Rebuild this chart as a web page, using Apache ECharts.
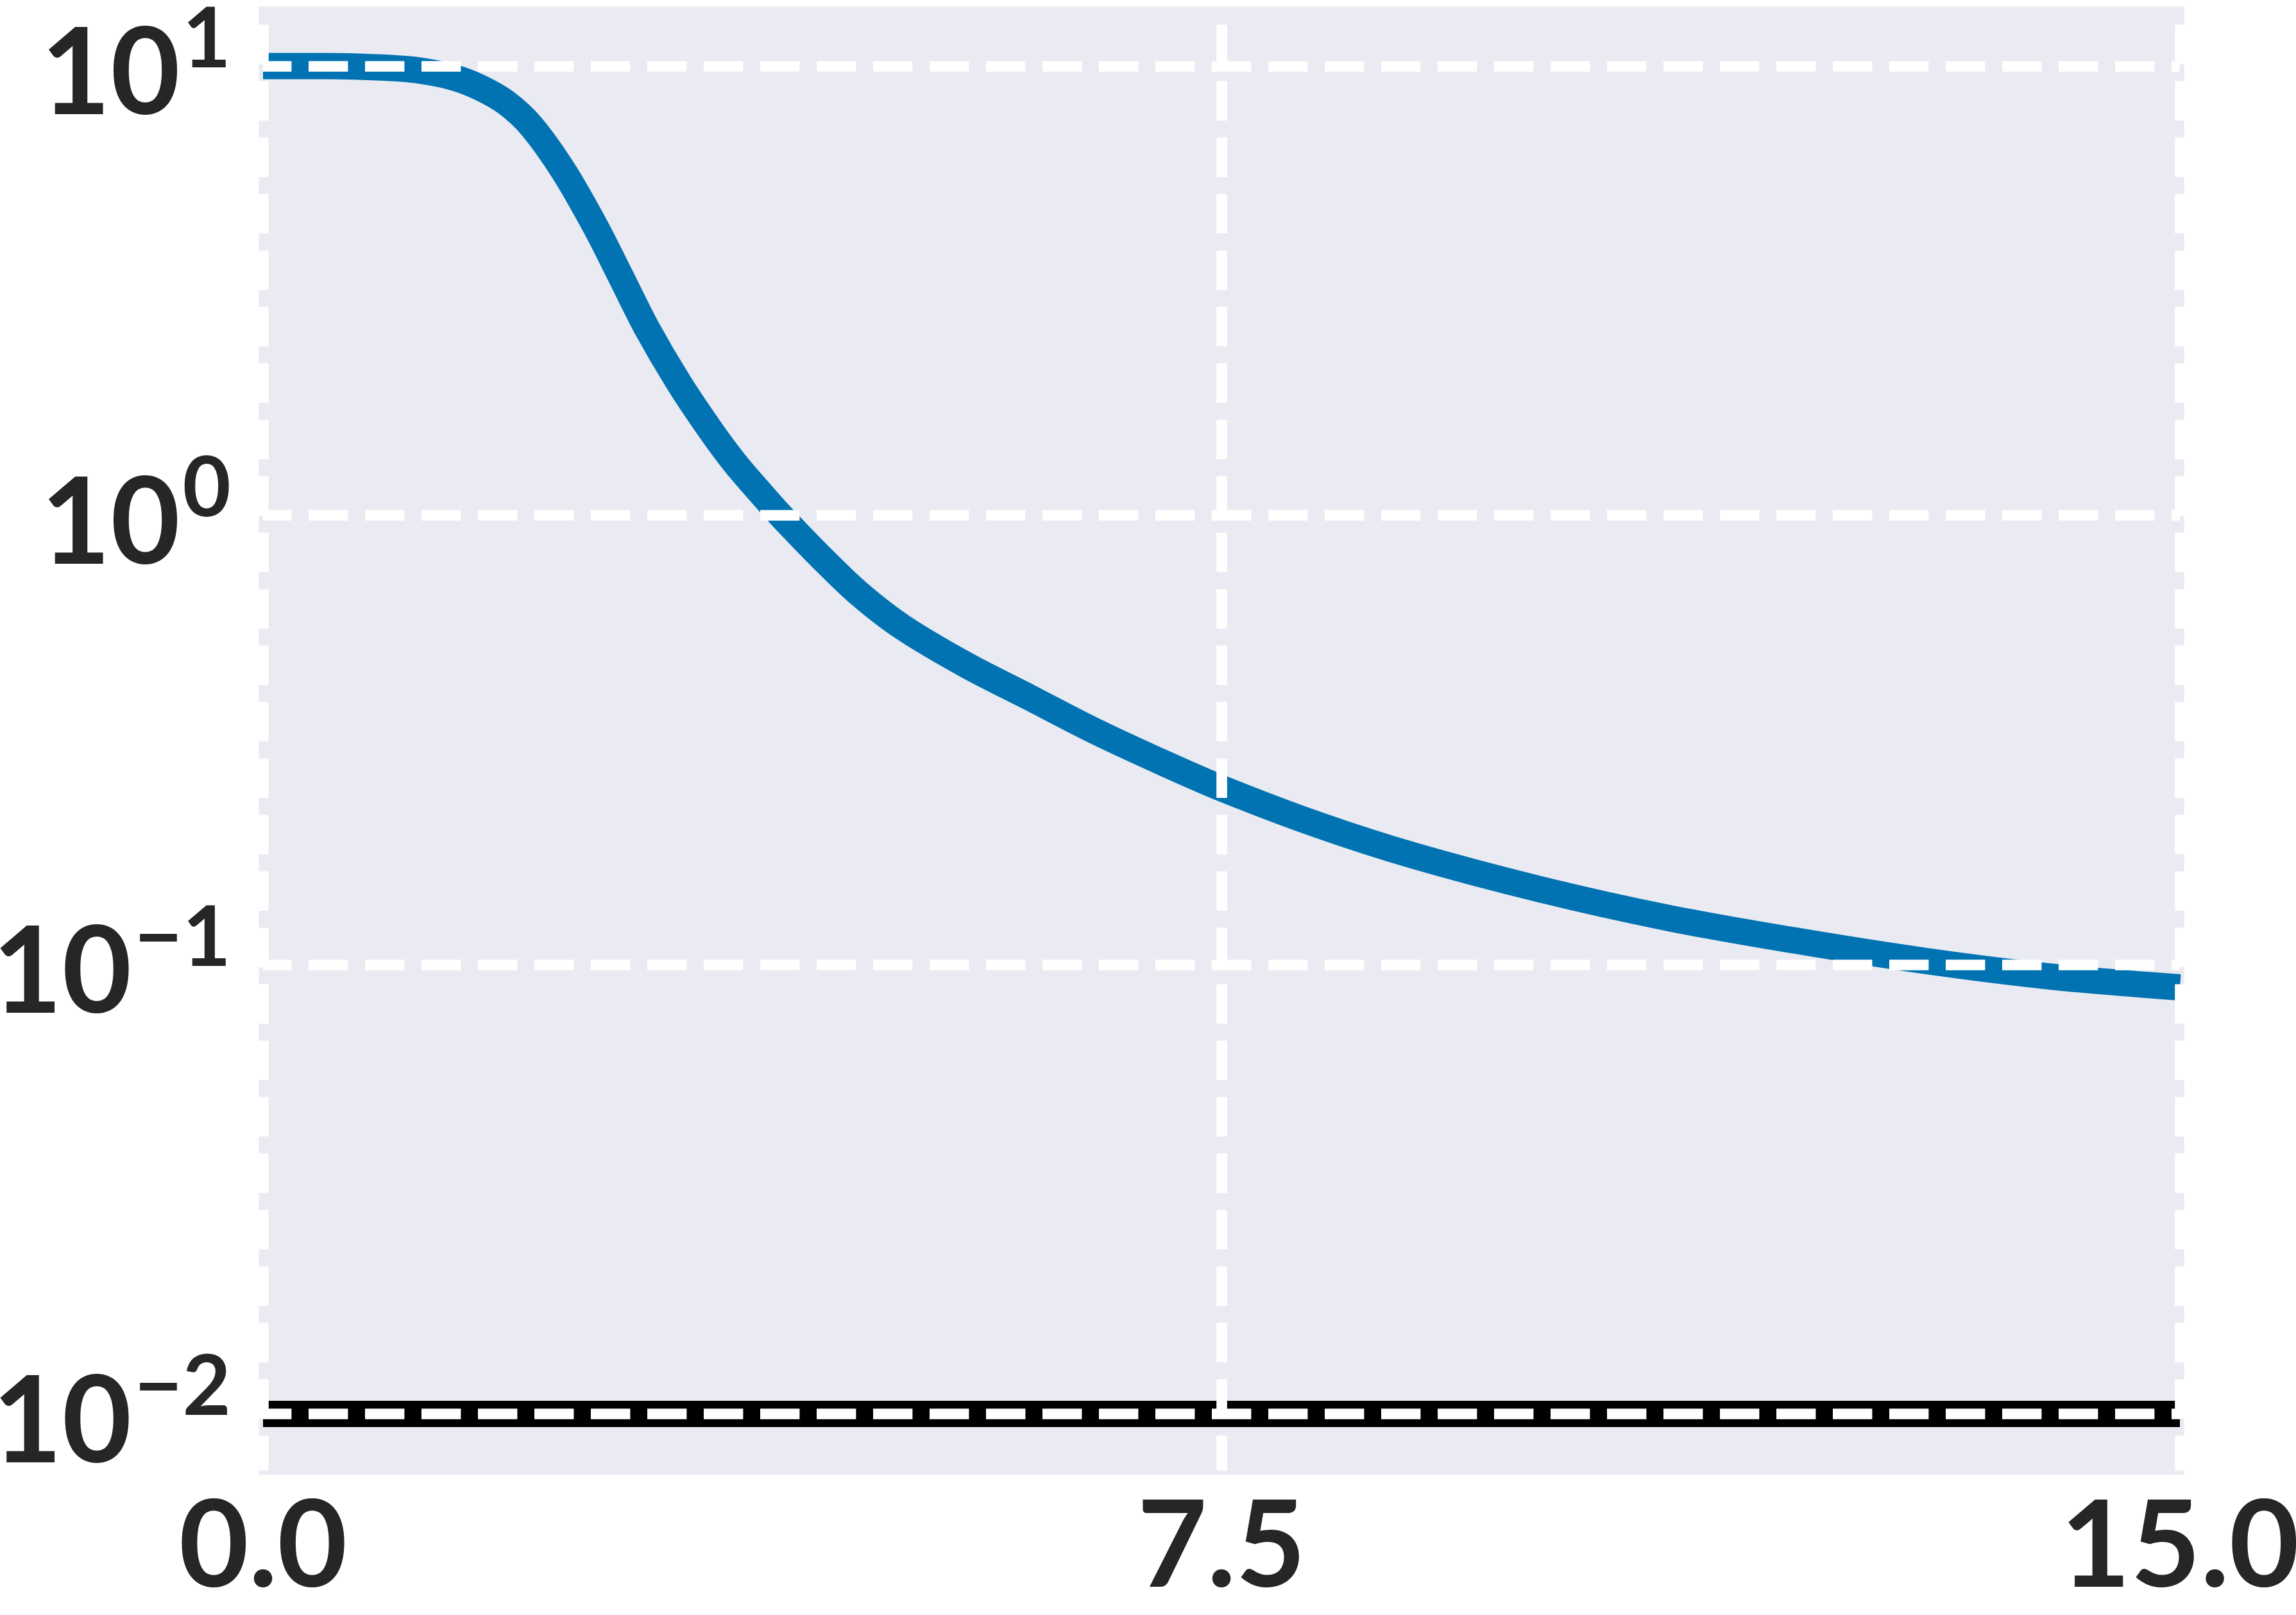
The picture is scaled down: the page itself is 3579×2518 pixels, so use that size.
<!DOCTYPE html>
<html>
<head>
<meta charset="utf-8">
<script src="https://cdn.jsdelivr.net/npm/echarts@6/dist/echarts.min.js"></script>
<style>
html,body{margin:0;padding:0;background:#ffffff;}
#chart{width:3579px;height:2518px;}
</style>
</head>
<body>
<div id="chart"></div>
<script>
// ---- data ----
const xValues = [0, 0.5, 1.0, 1.25, 1.5, 1.7, 1.9, 2.1, 2.35, 2.6, 2.8, 3.0, 3.25, 3.5, 3.7, 3.92, 4.05, 4.36, 4.65, 5.0, 5.5, 6.0, 6.5, 7.0, 7.5, 8.25, 9.0, 10.0, 11.0, 12.0, 13.0, 14.0, 15.0];
const yValues = [10.0, 10.0, 9.9, 9.75, 9.42, 8.95, 8.3, 7.35, 5.85, 4.4, 3.4, 2.62, 1.98, 1.55, 1.3, 1.1, 1.0, 0.81, 0.675, 0.565, 0.465, 0.393, 0.332, 0.285, 0.247, 0.205, 0.175, 0.147, 0.127, 0.113, 0.102, 0.094, 0.089];
const refX = [0, 15];
const refY = [0.01, 0.01];
const xTickValues = [0, 7.5, 15];
const yTickExponents = [-2, -1, 0, 1];

const X_MIN = 0, X_MAX = 15, X_INTERVAL = 7.5;
const Y_MIN = 0.007488, Y_MAX = 13.29;

const TEXT = '#262626';
const BG = '#EAEAF2';
const BLUE = '#0173B2';
const FONT = 'Lato';

const chart = echarts.init(document.getElementById('chart'), null, {renderer: 'canvas'});

function yLabel(v) {
  const e = Math.log10(v);
  const r = Math.round(e);
  if (Math.abs(e - r) > 1e-6 || yTickExponents.indexOf(r) < 0) return '';
  const exp = r < 0 ? '\u2212' + (-r) : String(r);
  return '{b|10}{s|' + exp + '}';
}

const gridLine = {
  color: '#ffffff',
  width: 16.6,
  type: [61.4, 26.6]
};

const option = {
  animation: false,
  backgroundColor: '#ffffff',
  grid: {
    left: 410, right: 181, top: 16.5, bottom: 225.5,
    show: true,
    backgroundColor: BG,
    borderColor: BG,
    borderWidth: 13,
    outerBoundsMode: 'none',
    containLabel: false
  },
  xAxis: {
    type: 'value',
    min: X_MIN, max: X_MAX, interval: X_INTERVAL,
    z: 5,
    axisLine: {show: false},
    axisTick: {show: false},
    axisLabel: {
      margin: 27,
      color: TEXT,
      fontFamily: FONT,
      fontWeight: 'bold',
      fontSize: 188,
      formatter: function (v) { return xTickValues.indexOf(v) >= 0 ? v.toFixed(1) : ''; }
    },
    splitLine: {
      show: true,
      lineStyle: Object.assign({}, gridLine, {dashOffset: 66})
    }
  },
  yAxis: {
    type: 'log',
    logBase: 10,
    min: Y_MIN, max: Y_MAX,
    z: 5,
    axisLine: {show: false},
    axisTick: {show: false},
    axisLabel: {
      margin: 50,
      color: TEXT,
      formatter: yLabel,
      rich: {
        b: {fontSize: 187, fontFamily: FONT, fontWeight: 'bold', color: TEXT, padding: [30, 0, 0, 0]},
        s: {fontSize: 130, fontFamily: FONT, fontWeight: 'bold', color: TEXT, padding: [0, 0, 80, 4]}
      }
    },
    splitLine: {
      show: true,
      showMinLine: false,
      showMaxLine: false,
      lineStyle: Object.assign({}, gridLine, {dashOffset: 17})
    }
  },
  series: [
    {
      type: 'line',
      data: refX.map((x, i) => [x, refY[i]]),
      symbol: 'none',
      lineStyle: {color: '#000000', width: 41, cap: 'butt'},
      z: 2
    },
    {
      type: 'line',
      data: xValues.map((x, i) => [x, yValues[i]]),
      symbol: 'none',
      smooth: 0.3,
      lineStyle: {color: BLUE, width: 41, cap: 'butt', join: 'round'},
      z: 3
    }
  ]
};
chart.setOption(option);
</script>
</body>
</html>
